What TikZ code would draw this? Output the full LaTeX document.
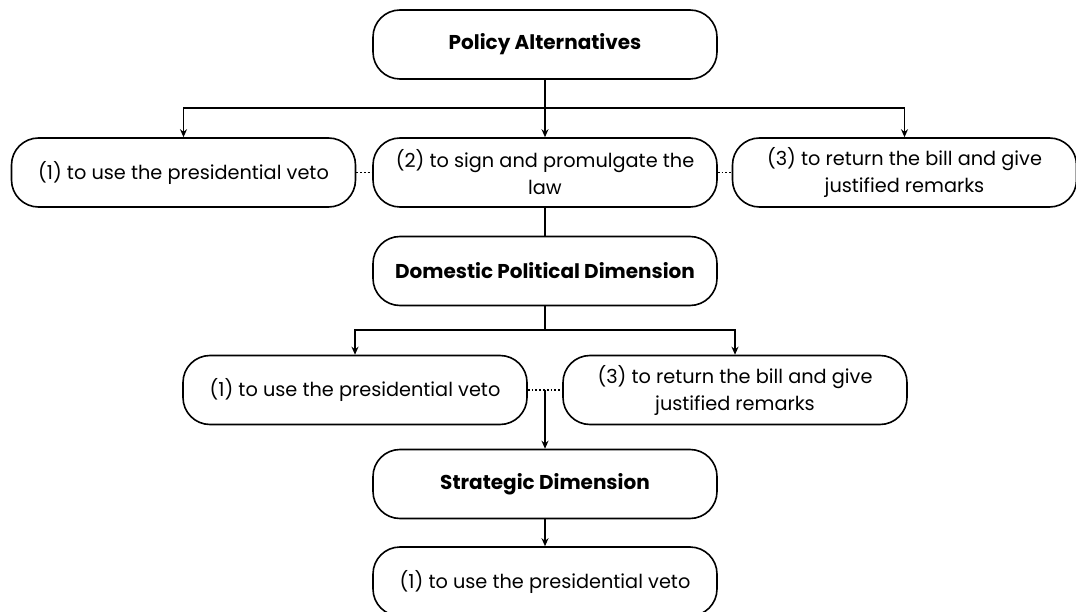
\documentclass[tikz,border=0pt]{standalone}
\usepackage{fontspec}
\setmainfont{Poppins}
\usetikzlibrary{arrows.meta}

\tikzset{
  choice/.style={draw, line width=1.6pt, rounded corners=27pt, minimum width=344pt,
    minimum height=69pt, align=center, inner sep=0pt,
    font=\fontsize{19.3}{27}\selectfont},
  head/.style={choice, font=\fontsize{20}{27}\selectfont\bfseries},
  link/.style={line width=1.6pt, -{Stealth[length=8pt,width=7pt]}},
  trunk/.style={line width=1.6pt},
  tie/.style={line width=1.8pt, dash pattern=on 1.8pt off 2pt}
}

\begin{document}
\begin{tikzpicture}[x=1pt,y=-1pt]
\useasboundingbox (0,0) rectangle (1076,612);

\node[head] (policy) at (545,44.5) {Policy Alternatives};

\node[choice] (veto) at (183.5,172.5) {(1) to use the presidential veto};
\node[choice] (sign) at (545,172.5) {(2) to sign and promulgate the\\law};
\node[choice] (return) at (904.5,172.5) {(3) to return the bill and give\\justified remarks};

\node[head] (domestic) at (545,271) {Domestic Political Dimension};

\node[choice] (vetoB) at (355,390) {(1) to use the presidential veto};
\node[choice] (returnB) at (735,390) {(3) to return the bill and give\\justified remarks};

\node[head] (strategic) at (545,484) {Strategic Dimension};
\node[choice] (vetoC) at (545,581.5) {(1) to use the presidential veto};

% first split
\coordinate (split1) at (545,108);
\draw[trunk] (policy.south) -- (split1);
\draw[link] (split1) -| (veto.north);
\draw[link] (split1) -- (sign.north);
\draw[link] (split1) -| (return.north);
\draw[tie] (veto.east) -- (sign.west);
\draw[tie] (sign.east) -- (return.west);

\draw[trunk] (sign.south) -- (domestic.north);

% second split
\coordinate (split2) at (545,330);
\draw[trunk] (domestic.south) -- (split2);
\draw[link] (split2) -| (vetoB.north);
\draw[link] (split2) -| (returnB.north);
\draw[tie] (vetoB.east) -- (returnB.west);

\coordinate (merge) at (545,390);
\draw[link] (merge) -- (strategic.north);
\draw[link] (strategic.south) -- (vetoC.north);

\end{tikzpicture}
\end{document}
